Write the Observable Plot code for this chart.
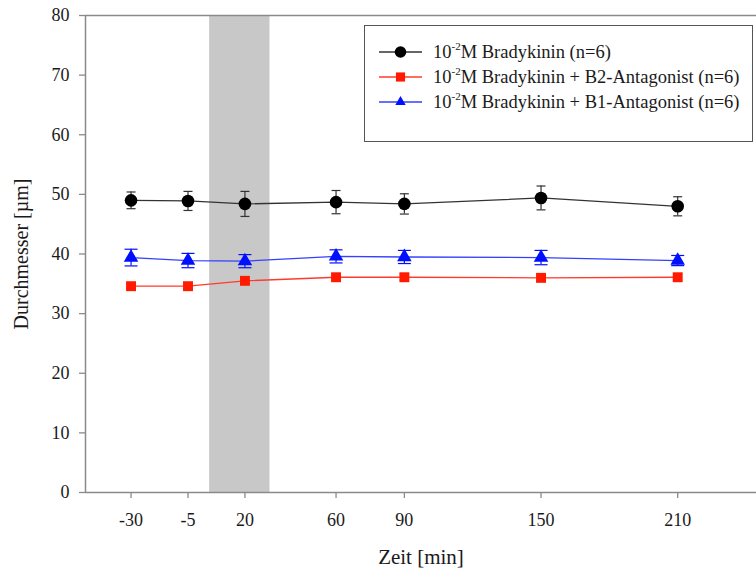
<!DOCTYPE html>
<html>
<head>
<meta charset="utf-8">
<script src="https://cdn.jsdelivr.net/npm/d3@7"></script>
<script src="https://cdn.jsdelivr.net/npm/@observablehq/plot@0.6"></script>
<style>
  body { margin: 0; background: #fff; }
  #chart { position: relative; width: 756px; height: 572px; font-family: "Liberation Serif", Tinos, "Times New Roman", "DejaVu Serif", serif; }
  #legend {
    position: absolute; left: 364px; top: 25px; width: 387px; height: 101px;
    border: 1px solid #555; background: #fff; box-sizing: content-box;
    padding-top: 14px; font-size: 18.5px; color: #1a1a1a;
    font-family: "Liberation Serif", Tinos, "Times New Roman", "DejaVu Serif", serif;
  }
  .row { display: flex; align-items: center; height: 24.7px; }
  .row svg { margin-left: 14px; margin-right: 11px; flex: none; }
  .row sup { font-size: 11px; position: relative; top: -1px; }
</style>
</head>
<body>
<div id="chart"><div id="legend"></div></div>
<script>
// Sampling times (min) and vessel diameters (µm), mean ± SEM
const times = [-30, -5, 20, 60, 90, 150, 210];

const bradykinin    = [49.0, 48.9, 48.4, 48.7, 48.4, 49.4, 48.0];
const bradykininErr = [1.4, 1.6, 2.1, 1.95, 1.7, 2.0, 1.6];

const withB2    = [34.6, 34.6, 35.5, 36.1, 36.1, 36.0, 36.1];
const withB2Err = [0.5, 0.5, 0.5, 0.5, 0.5, 0.5, 0.5];

const withB1    = [39.4, 38.9, 38.8, 39.6, 39.5, 39.4, 38.9];
const withB1Err = [1.4, 1.2, 1.1, 1.1, 1.1, 1.2, 0.85];

const seriesNames = [
  "M Bradykinin (n=6)",
  "M Bradykinin + B2-Antagonist (n=6)",
  "M Bradykinin + B1-Antagonist (n=6)"
];

// Application period (shaded)
const application = [[4.5, 31]];

const xTicks = times;
const yTicks = [0, 10, 20, 30, 40, 50, 60, 70, 80];

const serif = "'Liberation Serif', Tinos, 'Times New Roman', 'DejaVu Serif', serif";

const series = [
  {name: seriesNames[0], values: bradykinin, errors: bradykininErr, line: "#333333", fill: "#000000", bar: "#333333", symbol: "circle", r: 6.3, cap: 4.5},
  {name: seriesNames[1], values: withB2, errors: withB2Err, line: "#ff3b2b", fill: "#ff1a00", bar: "#ff1a00", symbol: "square", r: 5.6, cap: 4.5},
  {name: seriesNames[2], values: withB1, errors: withB1Err, line: "#3340ff", fill: "#0010ff", bar: "#0010ff", symbol: "triangle", r: 5.4, cap: 6.5}
];

// horizontal bar symbol for error-bar caps
const capSymbol = {
  draw(context, size) {
    const w = Math.sqrt(size / Math.PI);
    context.moveTo(-w, 0);
    context.lineTo(w, 0);
  }
};

const seriesMarks = series.flatMap(s => {
  const rows = times.map((t, i) => ({t, v: s.values[i], e: s.errors[i]}));
  return [
    Plot.ruleX(rows, {x: "t", y1: d => d.v - d.e, y2: d => d.v + d.e, stroke: s.bar, strokeWidth: 1.2}),
    Plot.dot(rows, {x: "t", y: d => d.v + d.e, symbol: capSymbol, r: s.cap, stroke: s.bar, strokeWidth: 1.2}),
    Plot.dot(rows, {x: "t", y: d => d.v - d.e, symbol: capSymbol, r: s.cap, stroke: s.bar, strokeWidth: 1.2}),
    Plot.line(rows, {x: "t", y: "v", stroke: s.line, strokeWidth: 1.3}),
    Plot.dot(rows, {x: "t", y: "v", symbol: s.symbol, r: s.r, fill: s.fill, stroke: "none"})
  ];
});

const chart = Plot.plot({
  width: 756,
  height: 572,
  marginLeft: 85,
  marginRight: 0,
  marginTop: 15,
  marginBottom: 80,
  style: {fontFamily: serif, background: "#fff", overflow: "visible"},
  x: {domain: [-50, 244.6]},
  y: {domain: [0, 80]},
  marks: [
    Plot.rect(application, {x1: d => d[0], x2: d => d[1], y1: 0, y2: 80, fill: "#c8c8c8"}),
    Plot.ruleY([80], {stroke: "#8a8a8a", strokeWidth: 1.5}),
    Plot.ruleY([0], {stroke: "#8a8a8a", strokeWidth: 1.5}),
    Plot.ruleX([-50], {stroke: "#8a8a8a", strokeWidth: 1.5}),
    Plot.axisY({
      ticks: yTicks, tickFormat: d => String(d), tickSize: 6, tickPadding: 10, fontSize: 18,
      stroke: "#8a8a8a", fill: "#1a1a1a", strokeWidth: 1.3,
      label: "Durchmesser [µm]", labelAnchor: "center", labelArrow: "none", labelOffset: 72
    }),
    Plot.axisX({
      ticks: xTicks, tickFormat: d => String(d), tickSize: 6, tickPadding: 15, fontSize: 18,
      stroke: "#8a8a8a", fill: "#1a1a1a", strokeWidth: 1.3,
      label: "Zeit [min]", labelAnchor: "center", labelArrow: "none", labelOffset: 71
    }),
    ...seriesMarks
  ]
});

chart.querySelectorAll("text").forEach(t => t.style.fontFamily = serif);
chart.querySelectorAll("[aria-label='y-axis label'] text").forEach(t => t.setAttribute("font-size", "20"));
chart.querySelectorAll("[aria-label='x-axis label'] text").forEach(t => t.setAttribute("font-size", "21"));
document.getElementById("chart").prepend(chart);

// legend
const legend = document.getElementById("legend");
for (const s of series) {
  const row = document.createElement("div");
  row.className = "row";
  const svg = d3.create("svg").attr("width", 43).attr("height", 16);
  svg.append("line").attr("x1", 0).attr("x2", 43).attr("y1", 8).attr("y2", 8).attr("stroke", s.line).attr("stroke-width", 1.6);
  const sym = {circle: d3.symbolCircle, square: d3.symbolSquare, triangle: d3.symbolTriangle2}[s.symbol];
  svg.append("path").attr("transform", "translate(21.5,8)")
    .attr("d", d3.symbol(sym, s.r * s.r * Math.PI * 0.85)()).attr("fill", s.fill);
  row.appendChild(svg.node());
  const label = document.createElement("span");
  label.innerHTML = "10<sup>-2</sup>" + s.name;
  row.appendChild(label);
  legend.appendChild(row);
}
</script>
</body>
</html>
